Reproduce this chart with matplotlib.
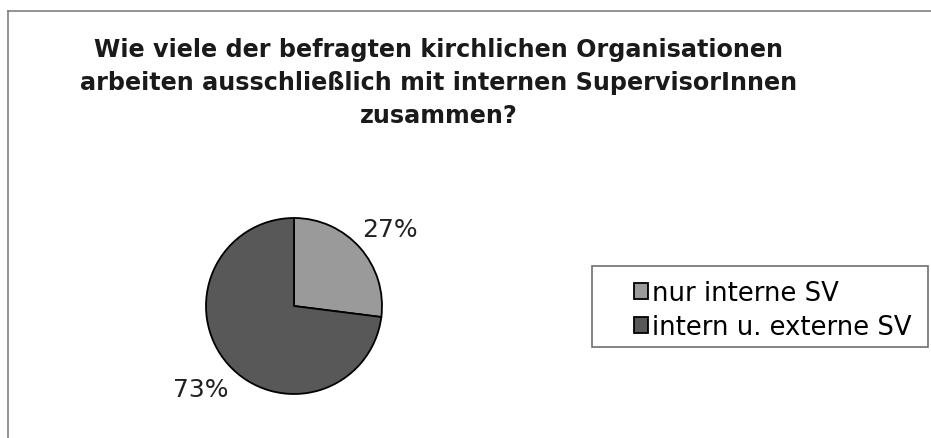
import matplotlib.pyplot as plt
from matplotlib.lines import Line2D
from matplotlib.patches import Rectangle

categories = ['nur interne SV', 'intern u. externe SV']
shares = [27, 73]
colors = ['#9a9a9a', '#585858']
title = ('Wie viele der befragten kirchlichen Organisationen\n'
         'arbeiten ausschließlich mit internen SupervisorInnen\n'
         'zusammen?')

plt.rcParams['font.family'] = ['DejaVu Sans']

W, H = 931, 439
fig = plt.figure(figsize=(W / 100, H / 100), dpi=100)

# Rahmen des Diagrammbereichs (nur oben und links sichtbar)
fig.add_artist(Line2D([8 / W, 8 / W], [0, 1 - 12 / H], color='#808080', lw=1.2))
fig.add_artist(Line2D([8 / W, 1], [1 - 12 / H, 1 - 12 / H], color='#808080', lw=1.2))

fig.text(439 / W, 1 - 83 / H, title, ha='center', va='center',
         fontsize=17.2, fontweight='bold', linespacing=1.47, color='#1a1a1a')

ax = fig.add_axes([0, 0, 1, 1])

wedges, texts, autotexts = ax.pie(
    shares, colors=colors, startangle=90, counterclock=False,
    center=(294, H - 307), radius=88, frame=True,
    autopct='%d%%', pctdistance=1.42,
    wedgeprops=dict(edgecolor='black', linewidth=1.3),
    textprops=dict(fontsize=18, color='#222222'))
# 27%-Beschriftung etwas tiefer setzen
x, y = autotexts[0].get_position()
autotexts[0].set_position((x + 2, y - 6))
ax.set_xlim(0, W)
ax.set_ylim(0, H)
ax.set_aspect('equal')
ax.axis('off')

# Legendenkasten mit breitem linken Rand
fig.add_artist(Rectangle((592 / W, 1 - 348 / H), 336 / W, 81 / H,
                         transform=fig.transFigure, facecolor='white',
                         edgecolor='#707070', lw=1.2, zorder=2))
leg = fig.legend(wedges, categories, loc='center left',
                 bbox_to_anchor=(634 / W, 1 - 311 / H),
                 fontsize=18.6, frameon=False,
                 handlelength=0.55, handleheight=0.55, handletextpad=0.15,
                 labelspacing=0.3, borderpad=0, borderaxespad=0)
leg.set_zorder(3)

fig.savefig('out.png', dpi=100)
